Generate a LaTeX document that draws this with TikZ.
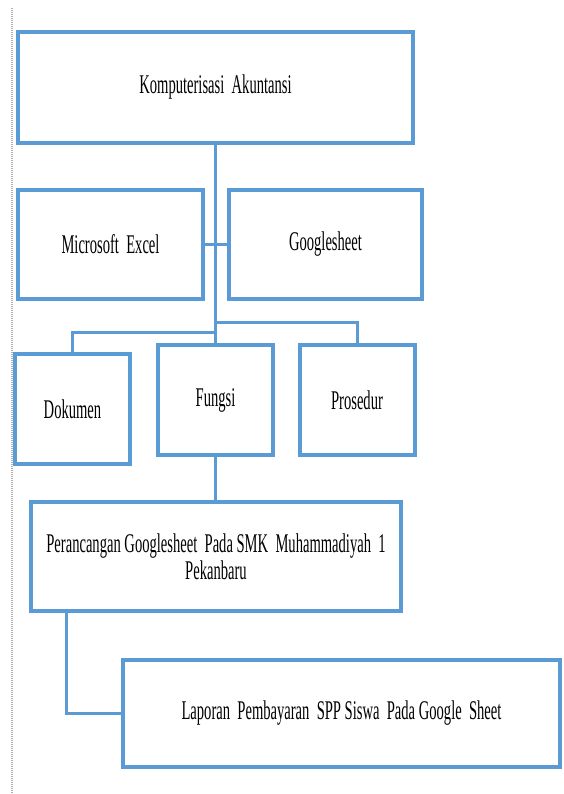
\documentclass[tikz,border=0pt]{standalone}
\usepackage{fontspec}
\setmainfont[FakeStretch=0.54]{Liberation Serif}
\usepackage{tikz}
\definecolor{boxblue}{RGB}{91,155,213}
\definecolor{rulegray}{RGB}{175,175,175}
\tikzstyle{box}=[draw=boxblue, line width=4pt, inner sep=0pt, outer sep=0pt,
  align=center, font=\fontsize{27}{27}\selectfont]
\tikzstyle{link}=[draw=boxblue, line width=3pt]

\begin{document}
\begin{tikzpicture}[x=1pt, y=1pt]

    % page frame and dotted margin rule
    \useasboundingbox (0,0) rectangle (563,-794);
    \draw[rulegray, line width=1.5pt, dash pattern=on 1pt off 1pt] (12,-8) -- (12,-794);

    % the boxes
    \node[box, minimum width=395, minimum height=111] (komp) at (215.5,-87.5) {Komputerisasi\ \ Akuntansi};
    \node[box, minimum width=185, minimum height=109] (excel) at (110.5,-244.5) {Microsoft\ \ Excel};
    \node[box, minimum width=193, minimum height=109] (gsheet) at (325.5,-244.5) {Googlesheet};
    \foreach \name/\x/\y/\txt in {dok/72.5/-409/Dokumen, fungsi/215.5/-400/Fungsi, pros/357/-400/Prosedur}
    \node[box, minimum width=115, minimum height=110] (\name) at (\x,\y) {\txt};
    \node[box, minimum width=370, minimum height=109] (peran) at (216,-556.5)
      {Perancangan Googlesheet\ \ Pada SMK\ \ Muhammadiyah\ \ 1\\Pekanbaru};
    \node[box, minimum width=437, minimum height=107] (lap) at (341.5,-713.5)
      {Laporan\ \ Pembayaran\ \ SPP Siswa\ \ Pada Google\ \ Sheet};

    % connectors
    \draw[link] (komp.south) -- (fungsi.north);
    \draw[link] (excel.east) -- (gsheet.west);
    \draw[link] (komp.south |- 0,-322) -| (pros.north);
    \draw[link] (komp.south |- 0,-332) -| (dok.north);
    \draw[link] (fungsi.south) -- (fungsi.south |- peran.north);
    \coordinate (bend) at (66,-714);
    \draw[link] (peran.south -| bend) |- (lap.west);
  \end{tikzpicture}
\end{document}
